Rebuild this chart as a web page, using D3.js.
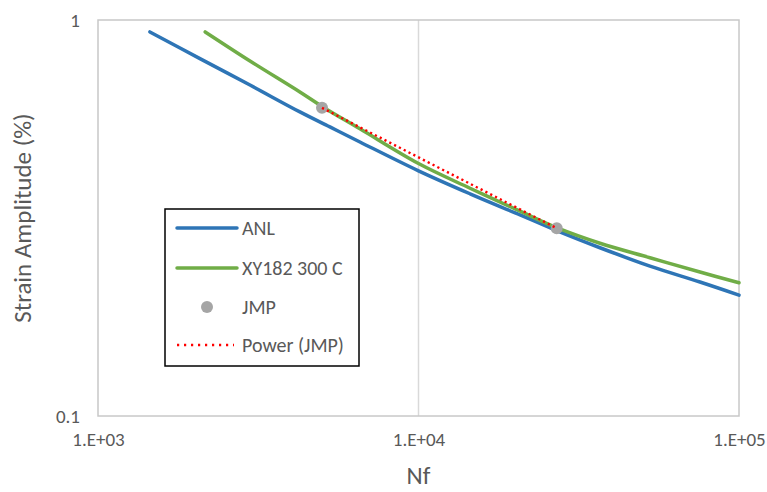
<!DOCTYPE html>
<html><head><meta charset="utf-8">
<script src="https://cdn.jsdelivr.net/npm/d3@7"></script>
<style>body{margin:0;background:#fff;} svg{display:block;font-family:Carlito,Calibri,Lato,sans-serif;}</style>
</head><body>
<svg id="c" width="767" height="492"></svg>
<script>
const anlN = [1452, 2080, 2980, 4265, 5290, 6565, 10000, 14480, 20740, 27230, 36830, 52740, 75540, 100000];
const anlS = [0.933, 0.799, 0.685, 0.586, 0.537, 0.492, 0.416, 0.364, 0.322, 0.293, 0.266, 0.239, 0.218, 0.202];
const xyN = [2160, 2980, 4265, 5000, 6565, 10000, 14480, 20740, 27230, 36830, 52740, 75540, 100000];
const xyS = [0.933, 0.788, 0.658, 0.605, 0.531, 0.434, 0.376, 0.329, 0.298, 0.273, 0.251, 0.231, 0.217];
const jmpN = [5000, 27000];
const jmpS = [0.600, 0.298];
const xTicks = [1e3, 1e4, 1e5];
const xTickLabels = ["1.E+03", "1.E+04", "1.E+05"];
const yTicks = [0.1, 1];
const yTickLabels = ["0.1", "1"];
const legendLabels = ["ANL", "XY182 300 C", "JMP", "Power (JMP)"];

const FONT = "Carlito,Calibri,Lato,sans-serif";
const svg = d3.select("#c");
const L = 98, R = 739, T = 20, B = 416;
const x = d3.scaleLog().domain([1e3, 1e5]).range([L, R]);
const y = d3.scaleLog().domain([0.1, 1]).range([B, T]);

// vertical gridline
svg.append("g").selectAll("line").data([1e4]).join("line")
  .attr("x1", d => x(d)).attr("x2", d => x(d)).attr("y1", T).attr("y2", B)
  .attr("stroke", "#d9d9d9").attr("stroke-width", 1.5);

// border
svg.append("rect").attr("x", L).attr("y", T).attr("width", R - L).attr("height", B - T)
  .attr("fill", "none").attr("stroke", "#c8c8c8").attr("stroke-width", 1.5);

// axes labels via d3 axes
const xAxis = d3.axisBottom(x).tickValues(xTicks).tickFormat((d, i) => xTickLabels[i]).tickSize(0).tickPadding(17);
const gx = svg.append("g").attr("transform", `translate(0,${B})`).call(xAxis);
gx.select(".domain").remove();
gx.selectAll("text").attr("font-size", 19).attr("fill", "#595959").attr("font-family", FONT);

const yAxis = d3.axisLeft(y).tickValues(yTicks).tickFormat((d, i) => yTickLabels[i]).tickSize(0).tickPadding(18);
const gy = svg.append("g").attr("transform", `translate(${L},0)`).call(yAxis);
gy.select(".domain").remove();
gy.selectAll("text").attr("font-size", 19).attr("fill", "#595959").attr("font-family", FONT);

// axis titles
svg.append("text").attr("x", (L + R) / 2).attr("y", 484).attr("text-anchor", "middle")
  .attr("font-size", 25).attr("fill", "#595959").text("Nf");
svg.append("text").attr("transform", `translate(31,${(T + B) / 2}) rotate(-90)`).attr("text-anchor", "middle")
  .attr("font-size", 25).attr("fill", "#595959").text("Strain Amplitude (%)");

const line = d3.line().x(d => x(d[0])).y(d => y(d[1])).curve(d3.curveCatmullRom.alpha(0.5));
svg.append("path").datum(anlN.map((n, i) => [n, anlS[i]])).attr("d", line)
  .attr("fill", "none").attr("stroke", "#2e75b6").attr("stroke-width", 3.5).attr("stroke-linecap", "round");
svg.append("path").datum(xyN.map((n, i) => [n, xyS[i]])).attr("d", line)
  .attr("fill", "none").attr("stroke", "#70ad47").attr("stroke-width", 3.5).attr("stroke-linecap", "round");

// JMP points
svg.append("g").selectAll("circle").data(jmpN.map((n, i) => [n, jmpS[i]])).join("circle")
  .attr("cx", d => x(d[0])).attr("cy", d => y(d[1])).attr("r", 6).attr("fill", "#a5a5a5");

// power fit dotted line (straight in log-log)
svg.append("path").datum(jmpN.map((n, i) => [n, jmpS[i]])).attr("d", d3.line().x(d => x(d[0])).y(d => y(d[1])))
  .attr("fill", "none").attr("stroke", "#ff0000").attr("stroke-width", 2.4).attr("stroke-dasharray", "2.2,3.2");

// legend
const lg = svg.append("g");
lg.append("rect").attr("x", 165).attr("y", 209).attr("width", 194).attr("height", 157)
  .attr("fill", "#fff").attr("stroke", "#000").attr("stroke-width", 1.5);
const ly = [228, 268, 307, 345];
legendLabels.forEach((lab, i) => {
  const yy = ly[i];
  if (i === 0 || i === 1) {
    lg.append("line").attr("x1", 177).attr("x2", 237).attr("y1", yy).attr("y2", yy)
      .attr("stroke", i === 0 ? "#2e75b6" : "#70ad47").attr("stroke-width", 3.5).attr("stroke-linecap", "round");
  } else if (i === 2) {
    lg.append("circle").attr("cx", 207).attr("cy", yy).attr("r", 6).attr("fill", "#a5a5a5");
  } else {
    lg.append("line").attr("x1", 177).attr("x2", 234).attr("y1", yy).attr("y2", yy)
      .attr("stroke", "#ff0000").attr("stroke-width", 2.4).attr("stroke-dasharray", "2.2,4.8");
  }
  lg.append("text").attr("x", 242).attr("y", yy + 7).attr("font-size", 20).attr("fill", "#595959").text(lab);
});
</script>
</body></html>
